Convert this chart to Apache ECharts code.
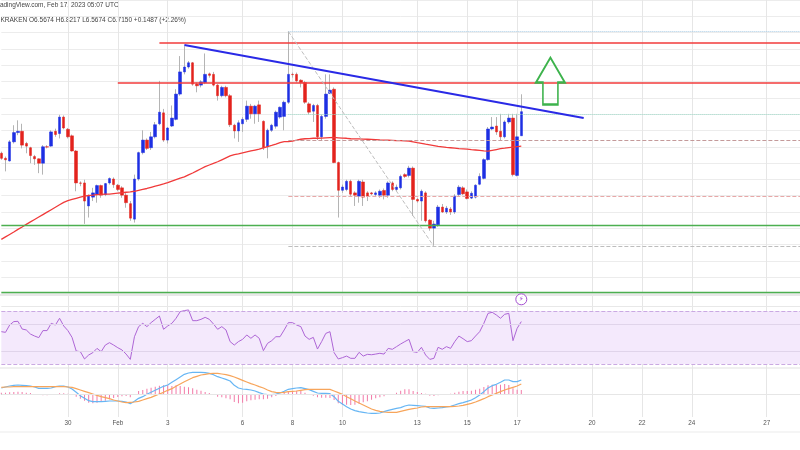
<!DOCTYPE html>
<html><head><meta charset="utf-8">
<script src="https://cdn.jsdelivr.net/npm/echarts@6/dist/echarts.min.js"></script>
<style>html,body{margin:0;padding:0;background:#fff}#c{width:800px;height:450px}</style>
</head><body><div id="c"></div>
<script>
// ---- data (LINK/USD 4h, Kraken) ----
const opens = [
6.460,6.429,6.413,6.530,6.587,6.595,6.520,6.494,6.440,6.426,
6.399,6.500,6.504,6.595,6.581,6.682,6.607,6.567,6.474,6.278,
6.278,6.137,6.191,6.207,6.262,6.207,6.278,6.302,6.264,6.248,
6.203,6.151,6.056,6.302,6.464,6.541,6.494,6.561,6.641,6.708,
6.541,6.627,6.668,6.823,6.959,6.989,7.015,6.884,6.878,6.894,
6.947,6.944,6.878,6.813,6.864,6.813,6.632,6.597,6.641,6.668,
6.749,6.702,6.757,6.656,6.500,6.601,6.626,6.682,6.686,6.773,
6.944,6.944,6.908,6.894,6.763,6.718,6.753,6.561,6.686,6.827,
6.853,6.403,6.233,6.238,6.288,6.217,6.197,6.284,6.217,6.217,
6.207,6.203,6.232,6.203,6.278,6.238,6.248,6.329,6.324,6.369,
6.177,6.167,6.217,6.050,6.001,6.021,6.130,6.100,6.118,6.100,
6.207,6.248,6.223,6.185,6.191,6.270,6.306,6.421,6.609,6.627,
6.595,6.561,6.652,6.676,6.324,6.5674];
const closes = [
6.429,6.420,6.530,6.587,6.595,6.510,6.504,6.446,6.426,6.399,
6.500,6.498,6.591,6.575,6.682,6.615,6.561,6.474,6.278,6.276,
6.167,6.197,6.217,6.262,6.203,6.274,6.305,6.268,6.238,6.203,
6.157,6.062,6.302,6.464,6.541,6.490,6.561,6.635,6.712,6.541,
6.615,6.676,6.823,6.959,6.989,7.015,6.884,6.874,6.898,6.944,
6.938,6.878,6.813,6.864,6.813,6.635,6.597,6.647,6.668,6.749,
6.702,6.749,6.702,6.494,6.601,6.632,6.712,6.742,6.773,6.944,
6.942,6.904,6.894,6.773,6.712,6.753,6.561,6.686,6.823,6.847,
6.403,6.233,6.253,6.288,6.209,6.203,6.288,6.191,6.197,6.211,
6.217,6.227,6.203,6.278,6.238,6.252,6.318,6.318,6.369,6.177,
6.167,6.227,6.046,6.001,6.026,6.130,6.100,6.123,6.100,6.197,
6.252,6.211,6.183,6.215,6.264,6.318,6.421,6.609,6.621,6.591,
6.561,6.652,6.676,6.329,6.561,6.7150];
const lows = [
6.420,6.349,6.409,6.520,6.571,6.490,6.460,6.399,6.389,6.338,
6.329,6.490,6.500,6.561,6.551,6.607,6.551,6.470,6.227,6.258,
6.027,6.066,6.167,6.157,6.187,6.197,6.268,6.248,6.227,6.187,
6.126,6.046,6.035,6.292,6.453,6.480,6.480,6.551,6.632,6.530,
6.520,6.621,6.662,6.813,6.944,6.979,6.874,6.834,6.864,6.884,
6.924,6.870,6.783,6.803,6.803,6.621,6.551,6.530,6.591,6.652,
6.672,6.641,6.652,6.480,6.429,6.591,6.611,6.672,6.601,6.763,
6.924,6.894,6.864,6.763,6.698,6.652,6.541,6.541,6.672,6.823,
6.399,6.066,6.217,6.227,6.197,6.137,6.157,6.137,6.167,6.203,
6.197,6.187,6.177,6.187,6.227,6.227,6.238,6.308,6.312,6.076,
6.157,6.046,6.035,5.985,5.894,6.009,6.094,6.088,6.082,6.088,
6.197,6.203,6.177,6.179,6.183,6.264,6.300,6.415,6.601,6.573,
6.541,6.551,6.641,6.318,6.318,6.5674];
const highs = [
6.470,6.440,6.541,6.632,6.662,6.641,6.530,6.500,6.450,6.429,
6.510,6.510,6.601,6.611,6.696,6.692,6.615,6.575,6.480,6.288,
6.298,6.207,6.248,6.268,6.268,6.278,6.312,6.312,6.272,6.258,
6.217,6.167,6.329,6.470,6.601,6.551,6.591,6.652,6.904,6.732,
6.621,6.753,6.853,7.056,7.117,7.026,7.020,6.894,6.908,7.072,
6.955,6.959,6.884,6.874,6.874,6.823,6.641,6.662,6.682,6.783,
6.763,6.757,6.783,6.662,6.611,6.641,6.722,6.747,6.783,7.207,
6.955,6.955,6.914,6.904,6.773,6.763,6.763,6.698,6.944,6.944,
6.864,6.409,6.268,6.298,6.298,6.227,6.298,6.298,6.227,6.223,
6.227,6.238,6.244,6.288,6.288,6.268,6.329,6.338,6.383,6.379,
6.187,6.238,6.227,6.056,6.046,6.143,6.149,6.137,6.130,6.209,
6.264,6.258,6.238,6.227,6.270,6.337,6.429,6.621,6.682,6.682,
6.702,6.662,6.702,6.702,6.702,6.8217];
const ema = [
5.932,5.947,5.962,5.977,5.993,6.008,6.024,6.039,6.054,6.069,
6.084,6.099,6.114,6.129,6.144,6.159,6.170,6.177,6.184,6.191,
6.197,6.201,6.203,6.206,6.208,6.209,6.210,6.213,6.216,6.218,
6.221,6.223,6.227,6.233,6.239,6.244,6.251,6.258,6.265,6.272,
6.280,6.289,6.298,6.307,6.315,6.327,6.339,6.352,6.365,6.378,
6.388,6.398,6.408,6.420,6.432,6.444,6.452,6.456,6.462,6.468,
6.474,6.480,6.486,6.493,6.501,6.508,6.516,6.525,6.531,6.532,
6.535,6.540,6.546,6.549,6.550,6.552,6.552,6.553,6.555,6.556,
6.557,6.555,6.553,6.552,6.549,6.548,6.548,6.547,6.546,6.545,
6.544,6.542,6.541,6.540,6.539,6.538,6.537,6.536,6.534,6.530,
6.525,6.521,6.516,6.512,6.507,6.502,6.499,6.496,6.494,6.492,
6.489,6.487,6.485,6.482,6.480,6.478,6.475,6.473,6.478,6.483,
6.488,6.491,6.495,6.498,6.501,6.504];
const rsi = [
54.4,53.9,59.4,62.0,62.2,56.4,55.7,52.6,51.1,49.9,
55.2,55.2,60.7,59.4,64.5,58.7,55.2,50.1,39.8,39.3,
33.8,36.8,38.6,41.8,39.3,44.3,46.1,44.3,42.3,40.6,
37.5,33.5,50.6,58.2,60.7,58.2,61.2,63.7,66.2,56.2,
58.7,60.7,64.5,69.5,70.3,70.8,62.7,62.7,63.7,65.2,
63.7,60.2,56.2,58.2,55.7,46.9,44.3,46.9,48.6,51.9,
49.4,51.9,49.4,40.1,45.6,47.6,50.6,50.6,55.7,61.2,
61.2,59.4,58.2,51.1,48.6,50.1,41.3,46.9,53.1,54.4,
38.6,33.8,34.8,36.0,34.3,34.3,38.8,36.0,37.3,37.0,
37.5,38.1,37.5,41.8,41.1,43.1,45.1,46.9,48.6,39.3,
38.8,42.6,36.8,33.5,34.3,42.6,41.1,43.1,41.8,46.9,
51.1,49.1,46.9,47.6,51.1,54.4,60.7,68.2,69.0,67.0,
64.5,67.5,68.2,47.6,56.9,62.0];
const macd = [
0.036,0.042,0.048,0.052,0.054,0.052,0.050,0.048,0.042,0.034,
0.034,0.034,0.036,0.044,0.048,0.048,0.042,0.030,0.010,-0.010,
-0.026,-0.040,-0.046,-0.046,-0.046,-0.044,-0.042,-0.042,-0.042,-0.044,
-0.048,-0.058,-0.044,-0.026,-0.016,-0.002,0.010,0.022,0.034,0.046,
0.054,0.070,0.086,0.102,0.118,0.126,0.130,0.130,0.130,0.128,
0.124,0.116,0.104,0.096,0.088,0.078,0.052,0.036,0.030,0.028,
0.024,0.018,0.008,0.000,-0.004,-0.004,0.000,0.006,0.016,0.028,
0.032,0.036,0.038,0.032,0.026,0.016,0.006,0.004,0.004,0.002,
-0.016,-0.044,-0.060,-0.076,-0.090,-0.100,-0.106,-0.110,-0.114,-0.116,
-0.116,-0.114,-0.106,-0.098,-0.092,-0.086,-0.082,-0.072,-0.066,-0.068,
-0.070,-0.072,-0.074,-0.084,-0.086,-0.084,-0.082,-0.078,-0.074,-0.066,
-0.058,-0.052,-0.044,-0.036,-0.022,-0.006,0.014,0.036,0.050,0.058,
0.070,0.084,0.084,0.074,0.074,0.084];
const signal = [
0.040,0.042,0.042,0.044,0.044,0.044,0.044,0.044,0.044,0.044,
0.044,0.044,0.044,0.044,0.044,0.044,0.042,0.040,0.032,0.024,
0.016,0.008,0.000,-0.008,-0.016,-0.022,-0.028,-0.036,-0.042,-0.048,
-0.052,-0.050,-0.048,-0.044,-0.036,-0.028,-0.020,-0.010,0.000,0.010,
0.022,0.032,0.046,0.060,0.074,0.086,0.098,0.106,0.114,0.118,
0.122,0.124,0.124,0.120,0.116,0.110,0.102,0.092,0.082,0.072,
0.062,0.054,0.044,0.036,0.024,0.014,0.010,0.008,0.010,0.014,
0.016,0.018,0.022,0.026,0.028,0.028,0.028,0.028,0.028,0.028,
0.018,0.008,-0.002,-0.016,-0.028,-0.042,-0.054,-0.066,-0.078,-0.090,
-0.098,-0.104,-0.108,-0.110,-0.110,-0.110,-0.104,-0.098,-0.092,-0.088,
-0.084,-0.078,-0.076,-0.076,-0.076,-0.076,-0.076,-0.076,-0.076,-0.074,
-0.072,-0.068,-0.062,-0.056,-0.048,-0.038,-0.028,-0.016,-0.006,0.004,
0.014,0.024,0.032,0.040,0.048,0.060];
const hist = [
0.008,0.008,0.010,0.012,0.014,0.012,0.008,0.006,0.000,-0.006,
-0.008,-0.008,-0.006,-0.002,0.004,0.004,0.002,-0.006,-0.016,-0.028,
-0.040,-0.052,-0.056,-0.052,-0.046,-0.040,-0.032,-0.024,-0.018,-0.014,
-0.012,-0.020,-0.006,0.018,0.024,0.032,0.038,0.044,0.050,0.052,
0.052,0.048,0.052,0.048,0.044,0.040,0.034,0.026,0.020,0.012,
0.006,-0.006,-0.016,-0.020,-0.026,-0.032,-0.048,-0.056,-0.052,-0.044,
-0.038,-0.034,-0.032,-0.032,-0.028,-0.020,-0.012,-0.004,0.006,0.014,
0.018,0.020,0.018,0.008,0.000,-0.010,-0.020,-0.022,-0.022,-0.024,
-0.036,-0.056,-0.064,-0.064,-0.066,-0.064,-0.058,-0.050,-0.044,-0.034,
-0.026,-0.020,-0.014,-0.006,0.000,0.008,0.020,0.028,0.028,0.018,
0.012,0.006,0.002,-0.010,-0.012,-0.008,-0.006,-0.002,0.002,0.008,
0.014,0.018,0.018,0.020,0.026,0.032,0.042,0.052,0.056,0.054,
0.056,0.060,0.054,0.034,0.026,0.024];
// tick labels of the time axis
const tickDates  = ['01-30','02-01','02-03','02-06','02-08','02-10','02-13','02-15','02-17','02-20','02-22','02-24','02-27'];
const tickLabels = ['30','Feb','3','6','8','10','13','15','17','20','22','24','27'];
// drawn levels (prices)
const resistTop = 7.135, resistMid = 6.890;
const trendStart = {i:44, p:7.124}, trendEnd = {i:140, p:6.676};
const greenLevels = [6.021, 5.606];
const fibLevels = [7.207, 6.700, 6.542, 6.197, 5.888];
const fibColors = ['#a9cde6','#9fdcca','#c49a9a','#e7a8a8','#bdbdbd'];
const fibTypes  = ['dotted','dotted','dashed','dashed','dashed'];
const fibStart = 69, fibEnd = 104;

// ---- axis categories: 4h slots from 2023-01-27 08:00 UTC ----
const SLOTS = 193;
const START = Date.UTC(2023,0,27,8);
const pad = n => (n<10?'0':'')+n;
const cats = [];
for (let i=0;i<SLOTS;i++){const d=new Date(START+i*4*3600*1000);cats.push(pad(d.getUTCMonth()+1)+'-'+pad(d.getUTCDate())+' '+pad(d.getUTCHours()));}
const tickMap = {}; tickDates.forEach((d,k)=>{tickMap[d+' 00']=tickLabels[k];});
const isTick = (idx,val)=> tickMap[val]!==undefined;
const LAST = cats[SLOTS-1];

const wickData = opens.map((o,i)=>[o,closes[i],lows[i],highs[i]]);
const bodyData = opens.map((o,i)=>[o,closes[i],Math.min(o,closes[i]),Math.max(o,closes[i])]);

const FONT = 'Liberation Sans';
function xAx(k){return {type:'category',gridIndex:k,data:cats,boundaryGap:false,
  axisLine:{show:k===2,lineStyle:{color:'#ababab',width:1}},axisTick:{show:false},
  axisLabel:{show:k===2,interval:isTick,formatter:v=>tickMap[v]||'',fontSize:6.3,color:'#555',margin:3,fontFamily:FONT},
  splitLine:{show:true,interval:isTick,lineStyle:{color:'#e6e6e6',width:1}}};}
const hidY = {axisLabel:{show:false},axisLine:{show:false},axisTick:{show:false}};

const ml = [];
ml.push([{coord:[cats[38],resistTop],lineStyle:{color:'#f23b3b',width:1.6,type:'solid'}},{coord:[LAST,resistTop]}]);
ml.push([{coord:[cats[28],resistMid],lineStyle:{color:'#f23b3b',width:1.6,type:'solid'}},{coord:[LAST,resistMid]}]);
greenLevels.forEach(g=>ml.push({yAxis:g,lineStyle:{color:'#4caf50',width:1.3,type:'solid'}}));
fibLevels.forEach((f,k)=>ml.push([{coord:[cats[fibStart],f],lineStyle:{color:fibColors[k],width:1,type:fibTypes[k]}},{coord:[LAST,f]}]));
ml.push([{coord:[cats[fibStart],fibLevels[0]],lineStyle:{color:'#bdbdbd',width:1,type:'dashed'}},{coord:[cats[fibEnd],fibLevels[4]]}]);
ml.push([{coord:[cats[trendStart.i],trendStart.p],lineStyle:{color:'#2a2ae6',width:2,type:'solid'}},{coord:[cats[trendEnd.i],trendEnd.p]}]);

const option = {
  animation:false,
  grid:[
    {left:1.33,right:-1.33,top:-3.5,height:297},
    {left:1.33,right:-1.33,top:296,height:72},
    {left:1.33,right:-1.33,top:368,height:49}
  ],
  xAxis:[xAx(0),xAx(1),xAx(2)],
  yAxis:[
    Object.assign({type:'value',gridIndex:0,min:5.6,max:7.4,interval:0.1,position:'right',splitLine:{lineStyle:{color:'#ececec'}}},hidY),
    Object.assign({type:'value',gridIndex:1,min:27,max:81.3,position:'right',splitLine:{show:false}},hidY),
    Object.assign({type:'value',gridIndex:2,min:-0.138,max:0.156,position:'right',splitLine:{show:false}},hidY)
  ],
  graphic:[
    {type:'text',x:-6,y:2,silent:true,style:{text:'TradingView.com, Feb 17, 2023 05:07 UTC',fontSize:6.5,fontFamily:FONT,fill:'#444'}},
    {type:'text',x:0.5,y:16.5,silent:true,style:{text:'KRAKEN O6.5674 H6.8217 L6.5674 C6.7150 +0.1487 (+2.26%)',fontSize:6.5,fontFamily:FONT,fill:'#444'}},
    {type:'rect',silent:true,shape:{x:0,y:294,width:800,height:2},style:{fill:'#e8e8e8'}},
    {type:'rect',silent:true,shape:{x:0,y:367.5,width:800,height:1},style:{fill:'#e2e2e2'}},
    {type:'rect',silent:true,shape:{x:0,y:431.5,width:800,height:1},style:{fill:'#ececec'}}
  ],
  series:[
    {type:'candlestick',name:'wick',xAxisIndex:0,yAxisIndex:0,data:wickData,barWidth:1,
     itemStyle:{color:'#b4b4b4',color0:'#b4b4b4',borderColor:'#b4b4b4',borderColor0:'#b4b4b4',borderWidth:1},z:2},
    {type:'candlestick',name:'body',xAxisIndex:0,yAxisIndex:0,data:bodyData,barWidth:3,
     itemStyle:{color:'#1d2fe3',color0:'#e3231d',borderColor:'#1d2fe3',borderColor0:'#e3231d',borderWidth:0.5},z:3,
     markLine:{silent:true,symbol:['none','none'],label:{show:false},data:ml,animation:false},
     markPoint:{silent:true,data:[{coord:[cats[132],6.903],symbol:'path://M14.5,0 L29,25 L22,25 L22,47 L7,47 L7,25 L0,25 Z',symbolSize:[29,47],symbolKeepAspect:false,
       itemStyle:{color:'rgba(255,255,255,0)',borderColor:'#3db34c',borderWidth:2},label:{show:false}}]}},
    {type:'line',name:'EMA',xAxisIndex:0,yAxisIndex:0,data:ema,symbol:'none',smooth:false,lineStyle:{color:'#f03a3a',width:1.3},z:4},
    {type:'line',name:'RSI',xAxisIndex:1,yAxisIndex:1,data:rsi,symbol:'none',lineStyle:{color:'#ae66d6',width:1},z:4,
     markArea:{silent:true,data:[[{yAxis:30},{yAxis:70}]],itemStyle:{color:'#f4e9fc'}},
     markLine:{silent:true,symbol:['none','none'],label:{show:false},data:[
       {yAxis:70,lineStyle:{color:'#caa9e2',type:'dashed',width:1}},
       {yAxis:30,lineStyle:{color:'#caa9e2',type:'dashed',width:1}},
       {yAxis:73.8,lineStyle:{color:'#e8e8e8',type:'solid',width:1}},
       {yAxis:60,lineStyle:{color:'#e0d4ea',type:'solid',width:1}},
       {yAxis:40,lineStyle:{color:'#e0d4ea',type:'solid',width:1}}]},
     markPoint:{silent:true,data:[{coord:[cats[125],78.8],symbol:'circle',symbolSize:11,
       itemStyle:{color:'#ffffff',borderColor:'#a24ccf',borderWidth:1},
       label:{show:true,formatter:'⚡',position:'inside',fontSize:7,color:'#a24ccf',fontFamily:'DejaVu Sans'}}]}},
    {type:'bar',name:'Hist',xAxisIndex:2,yAxisIndex:2,data:hist,barWidth:1,itemStyle:{color:'#f27aa8'},z:2,
     markLine:{silent:true,symbol:['none','none'],label:{show:false},data:[{yAxis:0,lineStyle:{color:'#e6e6e6',type:'solid',width:1}}]}},
    {type:'line',name:'MACD',xAxisIndex:2,yAxisIndex:2,data:macd,symbol:'none',lineStyle:{color:'#67b6f4',width:1.2},z:4},
    {type:'line',name:'Signal',xAxisIndex:2,yAxisIndex:2,data:signal,symbol:'none',lineStyle:{color:'#f7a55b',width:1.2},z:4}
  ]
};
const chart = echarts.init(document.getElementById('c'),null,{renderer:'canvas'});
chart.setOption(option);
</script></body></html>
